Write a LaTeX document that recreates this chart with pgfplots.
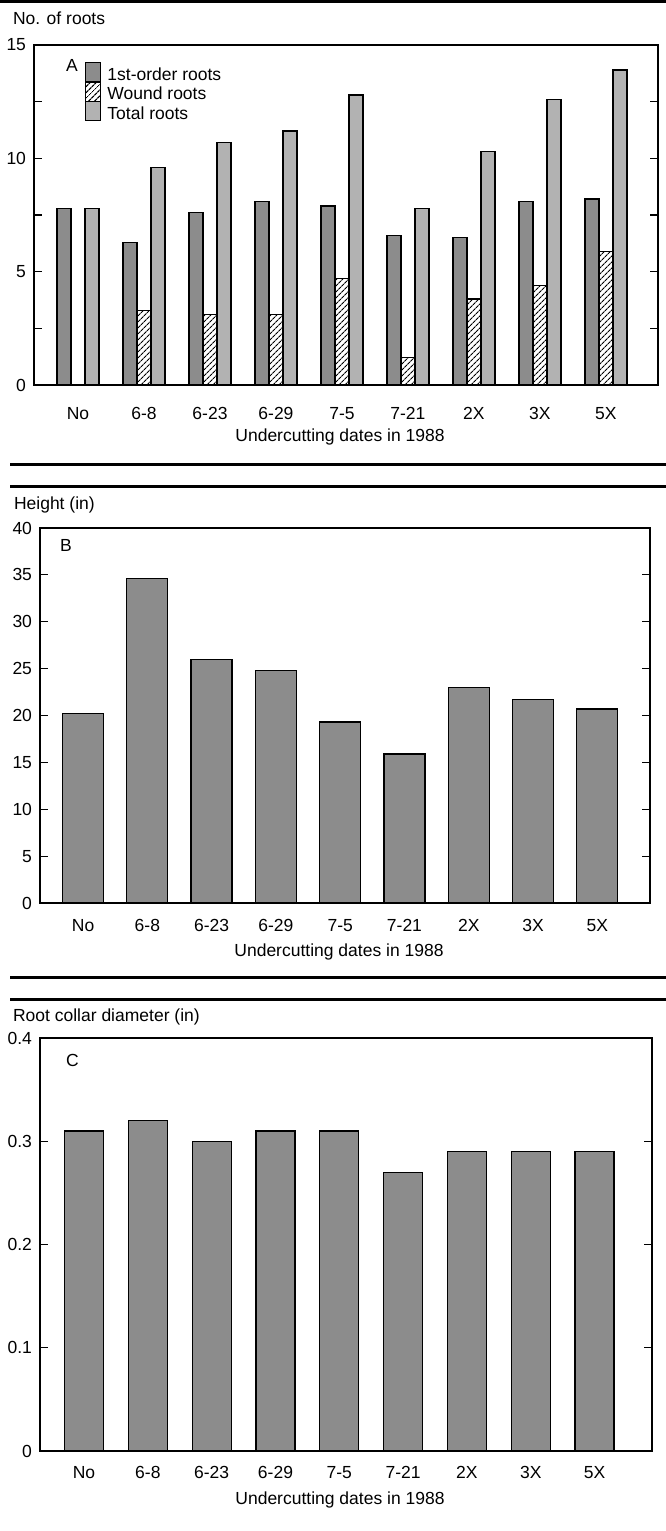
\documentclass[border=0pt]{standalone}
\usepackage{fontspec}
\setmainfont{Liberation Sans}
\usepackage{pgfplots}
\pgfplotsset{compat=1.18}
\usetikzlibrary{patterns,patterns.meta}

\newcommand{\ff}{\fontsize{17.5}{20}\selectfont}

\pgfplotsset{
  panel/.style={
    scale only axis, anchor=south west,
    axis line style={line width=1.2pt},
    tick align=inside, tick pos=both,
    major tick length=8pt, minor tick length=8pt,
    tick style={black, line width=1.2pt},
    xtick={0,...,8},
    xticklabels={No,6-8,6-23,6-29,7-5,7-21,2X,3X,5X},
    xtick style={draw=none},
    ymin=0,
    scaled y ticks=false,
    tick label style={font=\ff},
    /pgf/number format/assume math mode=true,
    yticklabel style={xshift=-2pt},
    xlabel={Undercutting dates in 1988},
    label style={font=\ff},
  },
  bar/.style={draw=black, line width=1.3pt},
}

\begin{document}
\ff
\begin{tikzpicture}
\path[use as bounding box] (0pt,0pt) rectangle (666pt,-1531pt);

% separator rules
\draw[line width=3pt] (0pt,-1.5pt) -- (666pt,-1.5pt);
\draw[line width=3pt] (10pt,-464pt) -- (666pt,-464pt);
\draw[line width=3pt] (10pt,-486pt) -- (666pt,-486pt);
\draw[line width=3pt] (10pt,-977pt) -- (666pt,-977pt);
\draw[line width=3pt] (10pt,-999pt) -- (666pt,-999pt);

% ---------------- Panel A
\begin{axis}[panel,
  at={(34pt,-385pt)}, width=624pt, height=340pt,
  xmin=-0.667, xmax=8.79, ymax=15,
  ytick={0,5,10,15}, minor ytick={2.5,7.5,12.5},
  ybar=0pt, bar width=14pt,
  xticklabel style={yshift=-8pt},
  xlabel style={at={(axis description cs:0.5,0)}, anchor=center, yshift=-52pt, xshift=-6pt},
  legend style={at={(0.082,0.95)}, anchor=north west, draw=none, fill=none,
    inner sep=0pt, outer sep=0pt, row sep=-2pt, column sep=6pt, font=\ff,
    nodes={inner sep=0pt, outer sep=0pt}},
  legend cell align=left,
  every axis plot post/.append style={
    legend image code/.code={\draw[##1] (0pt,-6.5pt) rectangle (15pt,13pt);}},
]
\addplot[bar, fill=black!45] coordinates {
  (0,7.8) (1,6.3) (2,7.6) (3,8.1) (4,7.9) (5,6.6) (6,6.5) (7,8.1) (8,8.2)};
\addplot[bar, pattern={Lines[angle=45,distance=4pt,line width=1.2pt]}] coordinates {
  (1,3.3) (2,3.1) (3,3.1) (4,4.7) (5,1.2) (6,3.8) (7,4.4) (8,5.9)};
\addplot[bar, fill=black!30] coordinates {
  (0,7.8) (1,9.6) (2,10.7) (3,11.2) (4,12.8) (5,7.8) (6,10.3) (7,12.6) (8,13.9)};
\legend{1st-order roots, Wound roots, Total roots}
\end{axis}
\node[anchor=west] at (7pt,-18pt) {No. of roots};
\node[anchor=west] at (60pt,-65pt) {A};

% ---------------- Panel B
\begin{axis}[panel,
  at={(40pt,-903pt)}, width=610pt, height=375pt,
  xmin=-0.67, xmax=8.82, ymax=40,
  ytick={0,5,...,40},
  ybar, bar width=41pt,
  xticklabel style={yshift=-2pt},
  xlabel style={at={(axis description cs:0.5,0)}, anchor=center, yshift=-49pt, xshift=-6pt},
]
\addplot[bar, fill=black!45] coordinates {
  (0,20.2) (1,34.6) (2,26.0) (3,24.8) (4,19.3) (5,15.9) (6,23.0) (7,21.7) (8,20.7)};
\end{axis}
\node[anchor=west] at (8pt,-505pt) {Height (in)};
\node[anchor=west] at (54pt,-545pt) {B};

% ---------------- Panel C
\begin{axis}[panel,
  at={(40pt,-1451pt)}, width=612pt, height=413pt,
  xmin=-0.69, xmax=8.9, ymax=0.4,
  ytick={0,0.1,0.2,0.3,0.4},
  ybar, bar width=39pt,
  xticklabel style={yshift=-1pt},
  xlabel style={at={(axis description cs:0.5,0)}, anchor=center, yshift=-49pt, xshift=-6pt},
]
\addplot[bar, fill=black!45] coordinates {
  (0,0.31) (1,0.32) (2,0.30) (3,0.31) (4,0.31) (5,0.27) (6,0.29) (7,0.29) (8,0.29)};
\end{axis}
\node[anchor=west] at (7pt,-1017pt) {Root collar diameter (in)};
\node[anchor=west] at (60pt,-1060pt) {C};
\end{tikzpicture}
\end{document}
